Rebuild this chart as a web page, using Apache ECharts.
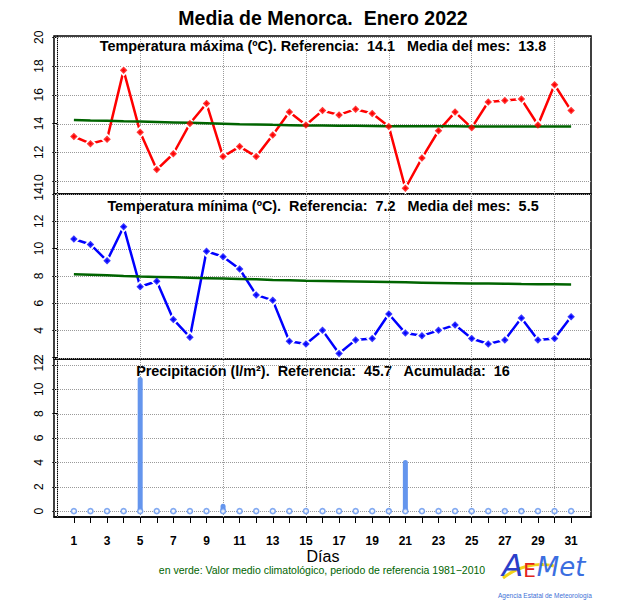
<!DOCTYPE html>
<html>
<head>
<meta charset="utf-8">
<title>Media de Menorca. Enero 2022</title>
<script src="https://cdn.jsdelivr.net/npm/echarts@6/dist/echarts.min.js"></script>
<style>
html, body { margin: 0; padding: 0; background: #fff; }
#chart { width: 634px; height: 613px; }
</style>
</head>
<body>
<div id="chart"></div>
<script>
// dias del mes y marcas del eje
const days = [1,2,3,4,5,6,7,8,9,10,11,12,13,14,15,16,17,18,19,20,21,22,23,24,25,26,27,28,29,30,31];
const dayLabels = [1,3,5,7,9,11,13,15,17,19,21,23,25,27,29,31];
const vGridDays = [0,5,10,15,20,25,30];

// temperatura maxima (ºC) y su valor climatologico
const tmax = [13.1,12.6,12.9,17.7,13.4,10.8,11.9,14.0,15.4,11.7,12.4,11.7,13.2,14.8,13.9,
              14.9,14.6,15.0,14.7,13.8,9.5,11.6,13.5,14.8,13.7,15.5,15.6,15.7,13.9,16.7,14.9];
const tmaxClim = [14.24,14.21,14.19,14.16,14.14,14.11,14.08,14.05,14.02,13.99,13.96,13.94,13.91,13.89,13.87,
                  13.86,13.85,13.84,13.83,13.82,13.82,13.81,13.81,13.81,13.80,13.80,13.80,13.80,13.80,13.80,13.80];
const tmaxTicks = [10,12,14,16,18,20];
const tmaxRef = 14.1;

// temperatura minima (ºC)
const tmin = [10.7,10.3,9.1,11.6,7.2,7.6,4.8,3.5,9.8,9.4,8.5,6.6,6.2,3.2,3.0,
              4.0,2.3,3.3,3.4,5.2,3.8,3.6,4.0,4.4,3.4,3.0,3.3,4.9,3.3,3.4,5.0];
const tminClim = [8.12,8.08,8.04,7.99,7.95,7.92,7.89,7.86,7.83,7.80,7.77,7.74,7.70,7.67,7.64,
                  7.62,7.60,7.58,7.56,7.54,7.52,7.50,7.48,7.46,7.44,7.43,7.42,7.40,7.39,7.38,7.37];
const tminTicks = [2,4,6,8,10,12,14];
const tminRef = 7.2;

// precipitacion (l/m2)
const precip = [0,0,0,0,11.0,0,0,0,0,0.6,0,0,0,0,0,0,0,0,0,0.2,4.2,0,0,0,0,0,0.1,0.2,0,0,0];
const precipTicks = [0,2,4,6,8,10,12];
const precipRef = 45.7;

const FONT = 'Liberation Sans, Arial, Helvetica, sans-serif';
const X_MIN = -0.2, X_MAX = 32.2;
const yRanges = [[9.1, 20.09], [1.9, 14.0], [-0.48, 12.48]];
const GRID_COLOR = '#9a9a9a';
const pair = arr => days.map((d, i) => [d, arr[i]]);
const mean = arr => arr.reduce((a, b) => a + b, 0) / arr.length;
const total = precip.reduce((a, b) => a + b, 0);
const px = v => Math.round(v) + 0.5;

const grids = [
    { left: 54, top: 36, width: 537, height: 158 },
    { left: 54, top: 194, width: 537, height: 165 },
    { left: 54, top: 359, width: 537, height: 158 }
].map(g => Object.assign(g, { show: true, borderColor: '#000', borderWidth: 1.5 }));

function xAxisFor(i) {
    const last = i === 2;
    return {
        type: 'value', gridIndex: i, min: X_MIN, max: X_MAX,
        axisLine: { show: last, onZero: false, lineStyle: { color: '#000', width: 1.5 } },
        axisTick: { show: last, customValues: days, length: 6, lineStyle: { color: '#000' } },
        axisLabel: { show: last, customValues: dayLabels, margin: 18, color: '#000',
                     fontSize: 12, fontWeight: 'bold', fontFamily: FONT },
        splitLine: { show: false }
    };
}

function yAxisFor(i, ticks) {
    return {
        type: 'value', gridIndex: i, min: yRanges[i][0], max: yRanges[i][1],
        axisLine: { show: true, lineStyle: { color: '#000', width: 1 } },
        axisTick: { show: true, customValues: ticks, length: 5, lineStyle: { color: '#000' } },
        axisLabel: { customValues: ticks, rotate: 90, margin: 9, color: '#000',
                     fontSize: 12, fontFamily: FONT },
        splitLine: { show: false }
    };
}

// rejilla punteada: verticales con serie "lines", horizontales ajustadas al pixel
function gridLines(i, ticks) {
    const vert = {
        type: 'lines', coordinateSystem: 'cartesian2d', xAxisIndex: i, yAxisIndex: i,
        z: 1, silent: true,
        data: vGridDays.map(d => ({ coords: [[d, yRanges[i][0]], [d, yRanges[i][1]]] })),
        lineStyle: { color: GRID_COLOR, width: 1, type: 'dotted', opacity: 1 }
    };
    const horiz = {
        type: 'custom', xAxisIndex: i, yAxisIndex: i, z: 1, silent: true,
        data: ticks.map(v => [1, v]),
        renderItem: (params, api) => {
            const a = api.coord([X_MIN, api.value(1)]);
            const b = api.coord([X_MAX, api.value(1)]);
            const y = px(a[1]);
            return { type: 'line', silent: true,
                     shape: { x1: a[0], y1: y, x2: b[0], y2: y },
                     style: { stroke: GRID_COLOR, fill: null, lineWidth: 1, lineDash: 'dotted' } };
        }
    };
    return [vert, horiz];
}

// linea con puntos al estilo type="b"
function obsSeries(i, arr, color) {
    return [
        { type: 'line', xAxisIndex: i, yAxisIndex: i, data: pair(arr), z: 2,
          lineStyle: { color: color, width: 2.5 }, symbol: 'diamond', symbolSize: 8,
          itemStyle: { color: color, borderColor: '#fff', borderWidth: 3 } },
        { type: 'scatter', xAxisIndex: i, yAxisIndex: i, data: pair(arr), z: 4,
          symbol: 'diamond', symbolSize: 7.5, itemStyle: { color: color } }
    ];
}

function climSeries(i, arr) {
    return { type: 'line', xAxisIndex: i, yAxisIndex: i, data: pair(arr), z: 3,
             showSymbol: false, lineStyle: { color: '#006400', width: 2.5 } };
}

function label(text, x, y, size, weight, color) {
    return { type: 'text', x: x, y: y, silent: true,
             style: { text: text, fill: color || '#000', align: 'center', verticalAlign: 'middle',
                      font: (weight || 'normal') + ' ' + size + 'px ' + FONT } };
}

const LOGO_FONT = 'DejaVu Sans, sans-serif';

const option = {
    backgroundColor: '#fff',
    animation: false,
    grid: grids,
    xAxis: [xAxisFor(0), xAxisFor(1), xAxisFor(2)],
    yAxis: [yAxisFor(0, tmaxTicks), yAxisFor(1, tminTicks), yAxisFor(2, precipTicks)],
    series: [
        ...gridLines(0, tmaxTicks),
        ...gridLines(1, tminTicks),
        ...gridLines(2, precipTicks),
        ...obsSeries(0, tmax, '#ff0000'),
        climSeries(0, tmaxClim),
        ...obsSeries(1, tmin, '#0000ff'),
        climSeries(1, tminClim),
        { type: 'bar', xAxisIndex: 2, yAxisIndex: 2, data: pair(precip), barWidth: 5, z: 2,
          itemStyle: { color: '#6495ed', borderRadius: 2.5 } },
        { type: 'scatter', xAxisIndex: 2, yAxisIndex: 2, data: days.map(d => [d, 0]), z: 3,
          symbol: 'circle', symbolSize: 5,
          itemStyle: { color: '#fff', borderColor: '#6495ed', borderWidth: 1.6 } }
    ],
    graphic: [
        label('Media de Menorca.  Enero 2022', 323, 18, 19.5, 'bold'),
        label('Temperatura máxima (ºC). Referencia:  ' + tmaxRef.toFixed(1) +
              '   Media del mes:  ' + mean(tmax).toFixed(1), 323, 46, 14.4, 'bold'),
        label('Temperatura mínima (ºC).  Referencia:  ' + tminRef.toFixed(1) +
              '   Media del mes:  ' + mean(tmin).toFixed(1), 323, 205.5, 14.4, 'bold'),
        label('Precipitación (l/m²).  Referencia:  ' + precipRef.toFixed(1) +
              '   Acumulada:  ' + Math.round(total), 323, 370.5, 14.4, 'bold'),
        label('Días', 323, 556.5, 16),
        label('en verde: Valor medio climatológico, periodo de referencia 1981\u22122010', 322, 570, 10.5, 'normal', '#006400'),
        // logo AEMet
        { type: 'bezierCurve', silent: true, z: 1,
          shape: { x1: 503, y1: 578, cpx1: 518, cpy1: 566, cpx2: 538, cpy2: 562, x2: 554, y2: 566 },
          style: { stroke: '#f3d21a', lineWidth: 3, fill: null } },
        { type: 'text', x: 502, y: 580, silent: true, z: 2,
          style: {
              text: '{a|A}{e|E}{m|Met}', align: 'left', verticalAlign: 'bottom',
              rich: {
                  a: { fill: '#2b3fc9', fontSize: 31, fontStyle: 'italic', fontFamily: LOGO_FONT, verticalAlign: 'bottom' },
                  e: { fill: '#e3231b', fontSize: 20, fontFamily: LOGO_FONT, verticalAlign: 'bottom', padding: [0, 1, 0, 0] },
                  m: { fill: '#3b6ee0', fontSize: 26, fontStyle: 'italic', fontFamily: LOGO_FONT, verticalAlign: 'bottom' }
              }
          } },
        label('Agencia Estatal de Meteorología', 545, 595, 6.5, 'normal', '#3d6fd6')
    ]
};

const chart = echarts.init(document.getElementById('chart'), null, { renderer: 'svg' });
chart.setOption(option);
</script>
</body>
</html>
